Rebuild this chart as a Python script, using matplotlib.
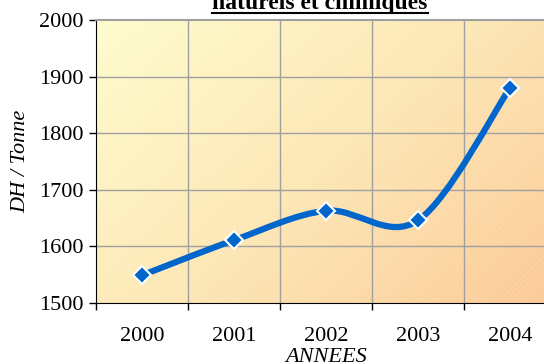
import numpy as np
import matplotlib.pyplot as plt
from matplotlib.path import Path
from matplotlib.patches import PathPatch, Rectangle
from matplotlib.lines import Line2D
from matplotlib.colors import LinearSegmentedColormap

# Prix moyen par année (DH / Tonne)
annees = ["2000", "2001", "2002", "2003", "2004"]
prix = [1549, 1611, 1663, 1646, 1880]

plt.rcParams["font.family"] = ["Liberation Serif", "DejaVu Serif"]

fig = plt.figure(figsize=(5.44, 3.64), dpi=100)
ax = fig.add_axes([96 / 544, 61 / 364, 460 / 544, 283 / 364])

x = np.arange(len(annees))
ax.set_xlim(-0.5, len(annees) - 0.5)
ax.set_ylim(1500, 2000)

# fond en dégradé jaune -> pêche
cmap = LinearSegmentedColormap.from_list("fond", ["#fffccc", "#fde7b4", "#fcc995"])
gx, gy = np.meshgrid(np.linspace(0, 1, 200), np.linspace(0, 1, 200))
grad = gx * 0.6 + gy * 0.4
ax.imshow(grad, cmap=cmap, extent=[-0.5, 4.5, 1500, 2000], origin="upper",
          aspect="auto", zorder=0)
ax.add_patch(Rectangle((-0.5, 1500), 5, 500, facecolor="none", edgecolor="white",
                       hatch="//////", linewidth=0, alpha=0.12, zorder=0.5))

# grille
for b in np.arange(0.5, 4.5, 1):
    ax.axvline(b, color="#a0a0a0", lw=1, zorder=1)
for v in range(1600, 2000, 100):
    ax.axhline(v, color="#a0a0a0", lw=1, zorder=1)

# courbe lissée (Catmull-Rom -> Bézier)
pts = np.column_stack([x, prix]).astype(float)
verts = [pts[0]]
codes = [Path.MOVETO]
for i in range(len(pts) - 1):
    p0 = pts[i - 1] if i > 0 else pts[i]
    p1 = pts[i]
    p2 = pts[i + 1]
    p3 = pts[i + 2] if i + 2 < len(pts) else pts[i + 1]
    verts += [p1 + (p2 - p0) / 6, p2 - (p3 - p1) / 6, p2]
    codes += [Path.CURVE4] * 3
ax.add_patch(PathPatch(Path(verts, codes), facecolor="none", edgecolor="#0066cc",
                       lw=4.5, capstyle="round", joinstyle="round", zorder=3))
ax.plot(x, prix, linestyle="none", marker="D", markersize=9,
        markerfacecolor="#0066cc", markeredgecolor="white", markeredgewidth=1.5,
        zorder=4)

# axes
ax.set_xticks(np.arange(-0.5, 5, 1))
ax.set_xticklabels([])
ax.set_xticks(x, minor=True)
ax.set_xticklabels(annees, minor=True)
ax.tick_params(axis="x", which="major", direction="out", length=5, width=1)
ax.tick_params(axis="x", which="minor", length=0, labelsize=16, pad=17)
ax.set_yticks(range(1500, 2001, 100))
ax.tick_params(axis="y", direction="out", length=5, width=1, labelsize=16, pad=4)

ax.spines["left"].set_color("black")
ax.spines["bottom"].set_color("black")
ax.spines["top"].set_color("#a0a0a0")
ax.spines["top"].set_linewidth(1.5)
ax.spines["right"].set_visible(False)

ax.set_ylabel("DH / Tonne", fontsize=16, style="italic")
ax.yaxis.set_label_coords(-66 / 460, 0.5)
ax.set_xlabel("ANNEES", fontsize=16, style="italic")
ax.xaxis.set_label_coords(0.5, -45 / 283)

# titre souligné
t = fig.text(320 / 544, 1 - 9.5 / 364, "naturels et chimiques", ha="center",
             va="baseline", fontsize=17, fontweight="bold")
fig.canvas.draw()
bb = t.get_window_extent().transformed(fig.transFigure.inverted())
fig.add_artist(Line2D([bb.x0, bb.x1], [1 - 12.5 / 364] * 2, color="black", lw=1.5,
                      transform=fig.transFigure))

fig.savefig("out.png", dpi=100)
